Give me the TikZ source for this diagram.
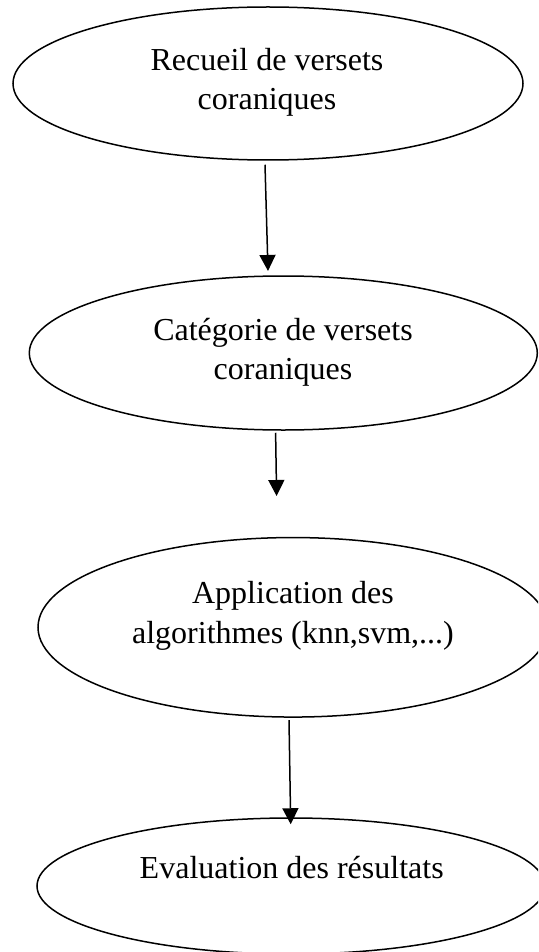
\documentclass[tikz,border=0pt]{standalone}
\usepackage{fontspec}
\setmainfont{Liberation Serif}
\usetikzlibrary{shapes.geometric,arrows.meta,calc}
\begin{document}
\begin{tikzpicture}[x=1pt,y=-1pt,
  oval/.style={draw,ellipse,line width=1.5pt,inner sep=0pt},
  lbl/.style={font=\fontsize{32}{39.5}\selectfont,align=center,inner sep=0pt},
  arr/.style={line width=1.5pt,-{Triangle[width=16pt,length=16pt]}}]
\useasboundingbox (0,0) rectangle (538,952);
\clip (0,0) rectangle (538,952);
% ellipses
\node[oval,minimum width=510pt,minimum height=153pt] (e1) at (268,83.5) {};
\node[oval,minimum width=508pt,minimum height=154pt] (e2) at (283.3,353) {};
\node[oval,minimum width=510pt,minimum height=179.5pt] (e3) at (293,627.3) {};
\node[oval,minimum width=508pt,minimum height=136pt] (e4) at (291,886) {};
% texts
\node[lbl] (t1) at (267,82.5) {Recueil de versets\\coraniques};
\node[lbl] (t2) at (283,352.3) {Catégorie de versets\\coraniques};
\node[lbl] (t3) at (293,616) {Application des\\algorithmes (knn,svm,...)};
\node[lbl,anchor=base] (t4) at (291.7,878.7) {Evaluation des résultats};
% connectors
\coordinate (c2) at (276.6,496);
\draw[arr] ($(e1.south)+(-3,4)$) -- ($(e2.north)+(-15.3,-4.3)$);
\draw[arr] ($(e2.south)+(-7.7,2)$) -- (c2);
\draw[arr] ($(e3.south)+(-4,2.3)$) -- ($(e4.north)+(-0.3,7)$);
\end{tikzpicture}
\end{document}
